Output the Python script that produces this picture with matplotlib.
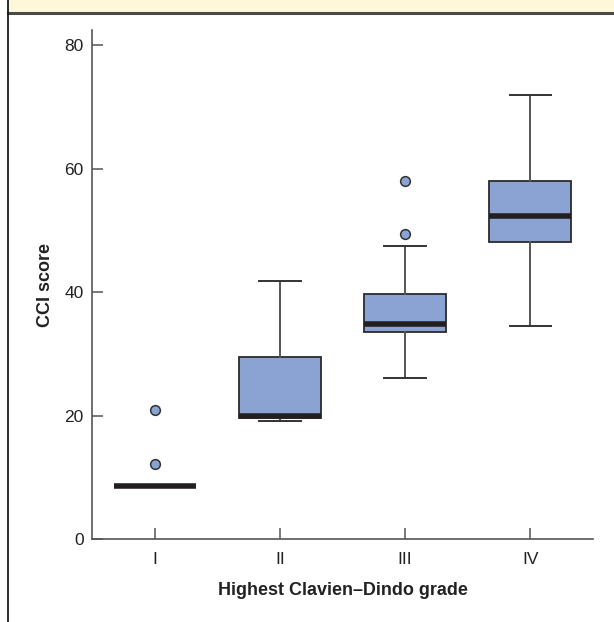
import matplotlib
matplotlib.use("Agg")
import matplotlib.pyplot as plt
from matplotlib.patches import Rectangle
from matplotlib.lines import Line2D

plt.rcParams['font.family'] = ['Liberation Sans', 'DejaVu Sans']

grades = ["I", "II", "III", "IV"]
whislo = [8.6, 19.2, 26.1, 34.6]
q1 = [8.6, 19.6, 33.6, 48.1]
med = [8.6, 20.0, 34.8, 52.3]
q3 = [8.6, 29.6, 39.7, 58.0]
whishi = [8.6, 41.8, 47.5, 71.9]
fliers = [[20.9, 12.2], [], [58.1, 49.5], []]

fig = plt.figure(figsize=(6.14, 6.22), dpi=100)

# header band and frame lines
fig.patches.append(Rectangle((8/614, 1-12/622), 1, 12/622, transform=fig.transFigure,
                             facecolor="#FFF8D8", edgecolor="none", zorder=0))
fig.lines.append(Line2D([8/614, 1], [1-12.5/622, 1-12.5/622], transform=fig.transFigure,
                        color="#4a4a48", lw=2.2))
fig.lines.append(Line2D([8/614, 8/614], [0, 1], transform=fig.transFigure,
                        color="#1a1a1a", lw=1.3))

ax = fig.add_axes([92/614, 1-539.3/622, (593-92)/614, (539.3-30)/622])

stats = []
for i, g in enumerate(grades):
    stats.append(dict(label=g, whislo=whislo[i], q1=q1[i], med=med[i], q3=q3[i],
                      whishi=whishi[i], fliers=fliers[i]))

ax.bxp(stats, positions=[1, 2, 3, 4], widths=0.655, patch_artist=True,
       boxprops=dict(facecolor="#8BA3D3", edgecolor="#2b2b2e", linewidth=1.3),
       medianprops=dict(color="#231F20", linewidth=4.0, solid_capstyle="butt"),
       whiskerprops=dict(color="#555555", linewidth=1.4),
       capprops=dict(color="#333333", linewidth=1.4),
       capwidths=0.33,
       flierprops=dict(marker="o", markerfacecolor="#8BA3D3", markeredgecolor="#333333",
                       markersize=7, markeredgewidth=1.1))

ax.set_xlim(0.5, 4.5)
ax.set_ylim(0, 82.5)
ax.set_yticks([0, 20, 40, 60, 80])
ax.set_xticks([1, 2, 3, 4])
ax.set_xticklabels(grades)
for s in ["top", "right"]:
    ax.spines[s].set_visible(False)
for s in ["left", "bottom"]:
    ax.spines[s].set_color("#555555")
    ax.spines[s].set_linewidth(1.2)
ax.tick_params(direction="in", length=8, width=1.1, color="#555555",
               labelsize=12.5, labelcolor="#222222")
ax.tick_params(axis="y", pad=6)
ax.tick_params(axis="x", pad=9)
ax.set_xlabel("Highest Clavien\u2013Dindo grade", fontsize=13, fontweight="bold",
              color="#222222", labelpad=11)
ax.set_ylabel("CCI score", fontsize=13, fontweight="bold", color="#222222",
              va="center")
ax.yaxis.set_label_coords(-46/501, 0.5)

fig.savefig("out.png", dpi=100)
